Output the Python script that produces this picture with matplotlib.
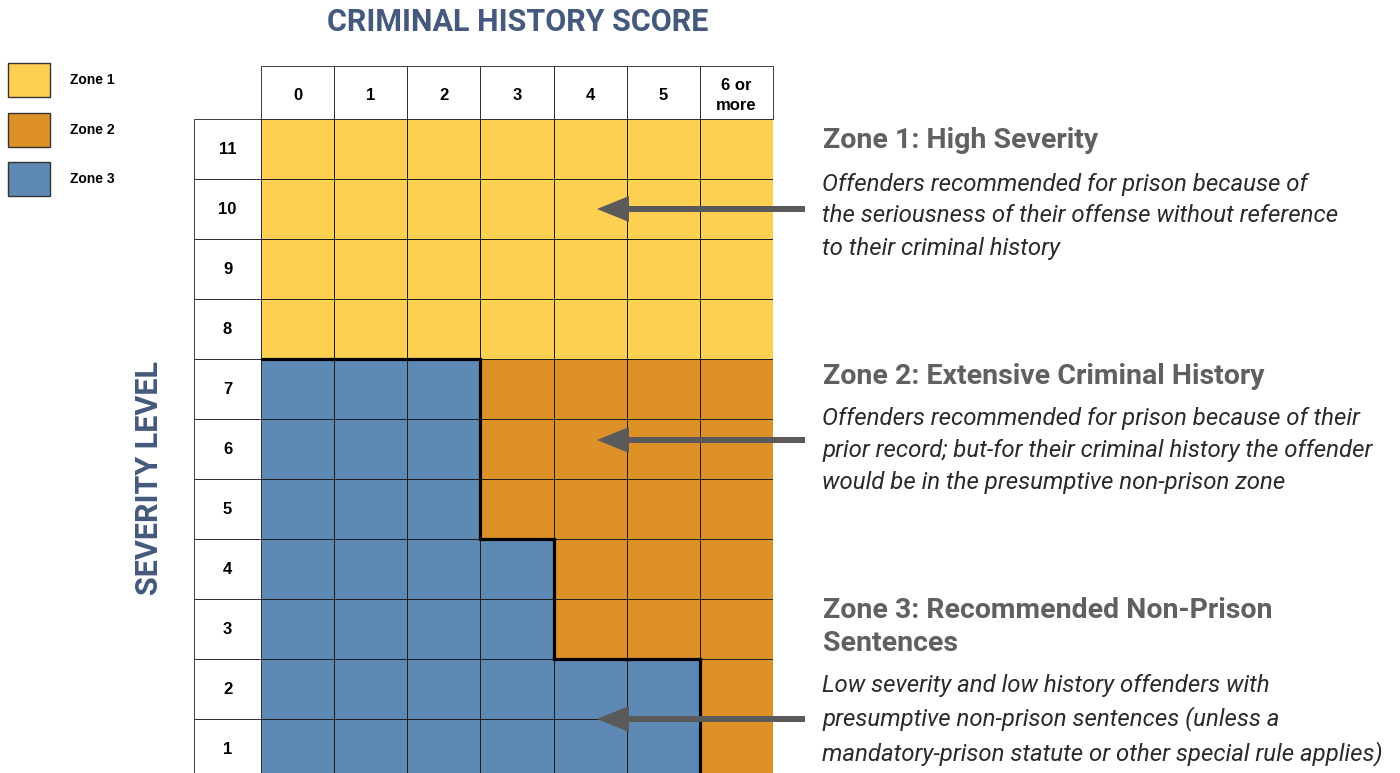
import numpy as np
import matplotlib
matplotlib.use("Agg")
from matplotlib import pyplot as plt
from matplotlib.colors import ListedColormap
from matplotlib.patches import Rectangle
from matplotlib.collections import LineCollection

# data
zone_names = ["Zone 1", "Zone 2", "Zone 3"]
zone_colors = ["#FDD052", "#DD9127", "#5E89B4"]
history_labels = ["0", "1", "2", "3", "4", "5", "6 or\nmore"]
severity_levels = [11, 10, 9, 8, 7, 6, 5, 4, 3, 2, 1]
# zone of each cell, rows in the order of severity_levels
zone_grid = [
    [1, 1, 1, 1, 1, 1, 1],
    [1, 1, 1, 1, 1, 1, 1],
    [1, 1, 1, 1, 1, 1, 1],
    [1, 1, 1, 1, 1, 1, 1],
    [3, 3, 3, 2, 2, 2, 2],
    [3, 3, 3, 2, 2, 2, 2],
    [3, 3, 3, 2, 2, 2, 2],
    [3, 3, 3, 3, 2, 2, 2],
    [3, 3, 3, 3, 2, 2, 2],
    [3, 3, 3, 3, 3, 3, 2],
    [3, 3, 3, 3, 3, 3, 2],
]
zone_titles = ["Zone 1: High Severity",
               "Zone 2: Extensive Criminal History",
               "Zone 3: Recommended Non-Prison\nSentences"]
zone_texts = [
    "Offenders recommended for prison because of\nthe seriousness of their offense without reference\nto their criminal history",
    "Offenders recommended for prison because of their\nprior record; but-for their criminal history the offender\nwould be in the presumptive non-prison zone",
    "Low severity and low history offenders with\npresumptive non-prison sentences (unless a\nmandatory-prison statute or other special rule applies)",
]
# severity level each arrow points at
arrow_levels = [10, 6.15, 1.5]

W, H = 1400, 773
fig = plt.figure(figsize=(W / 100, H / 100), dpi=100)

# grid axes: 7 history columns x 11 severity rows
ax = fig.add_axes([261 / W, 1 - 779 / H, 512 / W, 660 / H])
ax.set_xlim(0, 7)
ax.set_ylim(0.5, 11.5)
ax.axis("off")

Z = np.array(zone_grid)[::-1]  # severity 1 first
line_col = "#1e1e1e"
ax.pcolormesh(np.arange(8), np.arange(0.5, 12.5), Z,
              cmap=ListedColormap(zone_colors), vmin=0.5, vmax=3.5,
              edgecolors=line_col, linewidth=0.6)

hdr_h = 53 / 60
lab_w = 67 / (512 / 7)
for i, lab in enumerate(history_labels):
    ax.add_patch(Rectangle((i, 11.5), 1, hdr_h, facecolor="white",
                           edgecolor=line_col, lw=0.6, clip_on=False))
    ax.text(i + 0.5, 11.5 + hdr_h / 2 - 0.05, lab, ha="center", va="center",
            fontsize=12, fontweight="bold", family="Liberation Sans",
            linespacing=1.35)
for s in severity_levels:
    ax.add_patch(Rectangle((-lab_w, s - 0.5), lab_w, 1, facecolor="white",
                           edgecolor=line_col, lw=0.6, clip_on=False))
    ax.text(-lab_w / 2, s, str(s), ha="center", va="center",
            fontsize=12, fontweight="bold", family="Liberation Sans")

# thick border around zone 3
is3 = Z == 3
segs = []
nr, nc = Z.shape
for r in range(nr):
    for c in range(nc):
        y0 = r + 0.5
        if c + 1 < nc and is3[r, c] != is3[r, c + 1]:
            segs.append([(c + 1, y0), (c + 1, y0 + 1)])
        if r + 1 < nr and is3[r, c] != is3[r + 1, c]:
            segs.append([(c, y0 + 1), (c + 1, y0 + 1)])
ax.add_collection(LineCollection(segs, colors="black", linewidths=2.3,
                                 capstyle="projecting"))

# overlay axes in pixel units for legend, titles and notes
ov = fig.add_axes([0, 0, 1, 1], zorder=5)
ov.set_xlim(0, W)
ov.set_ylim(H, 0)
ov.axis("off")
ov.patch.set_alpha(0)

for k, (name, col) in enumerate(zip(zone_names, zone_colors)):
    y = 63 + k * 49.5
    ov.add_patch(Rectangle((8, y), 42, 34, facecolor=col,
                           edgecolor="#333333", lw=1))
    ov.text(70, y + 17, name, va="center", fontsize=10, fontweight="bold",
            family="Liberation Sans")

title_col = "#44597D"
ov.text(518, 22, "CRIMINAL HISTORY SCORE", ha="center", va="center",
        fontsize=22, fontweight="bold", family="Roboto", color=title_col)
ov.text(149, 478, "SEVERITY LEVEL", ha="center", va="center", rotation=90,
        fontsize=22, fontweight="bold", family="Roboto", color=title_col)

head_y = [140, 376, 627]
body_y = [216, 451, 720]
for k in range(3):
    ov.text(823, head_y[k], zone_titles[k], va="center", ha="left",
            fontsize=20.5, fontweight="bold", family="Roboto",
            color="#606060", linespacing=1.27)
    ov.text(822, body_y[k], zone_texts[k], va="center", ha="left",
            fontsize=17.3, fontstyle="italic", fontweight="normal",
            family="Roboto", color="#2a2a2a", linespacing=1.5)

# arrows pointing into the grid
for lvl in arrow_levels:
    y_disp = ax.transData.transform((0, lvl))
    y_pix = H - y_disp[1]
    ov.arrow(805, y_pix, -208, 0, width=6, head_width=26, head_length=32,
             length_includes_head=True, color="#5A5A5A", lw=0)

fig.savefig("out.png", dpi=100)
